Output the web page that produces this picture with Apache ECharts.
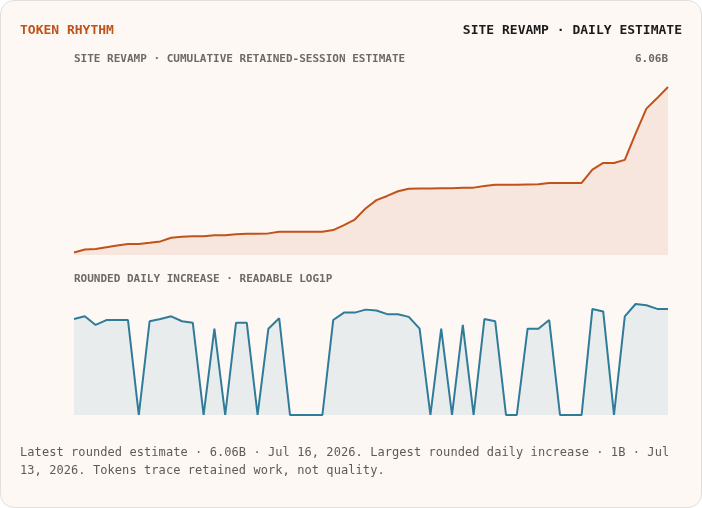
<html lang="en">
<head>
    <meta charset="UTF-8">
    <title>Token Rhythm</title>
    <script type="text/javascript" src="https://cdn.jsdelivr.net/npm/echarts@6/dist/echarts.min.js"></script>
</head>
<style>
    html, body {
        margin: 0;
        padding: 0;
        background: #ffffff;
    }
    #card {
        position: absolute;
        left: 0;
        top: 0;
        width: 702px;
        height: 508px;
        box-sizing: border-box;
        border: 1px solid #e4dfda;
        border-radius: 14px;
        background: #fdf8f4;
    }
    #container {
        position: absolute;
        left: 0;
        top: 0;
        width: 702px;
        height: 508px;
    }
    #note {
        position: absolute;
        left: 20px;
        top: 444px;
        width: 665px;
        font-family: 'DejaVu Sans Mono', monospace;
        font-size: 12px;
        letter-spacing: 0.07px;
        line-height: 17.5px;
        color: #5f5a56;
    }
</style>
<body>
<div id="card"></div>
<div id="container"></div>
<div id="note">Latest rounded estimate · 6.06B · Jul 16, 2026. Largest rounded daily increase · 1B · Jul 13, 2026. Tokens trace retained work, not quality.</div>
<script>
    // 56 days, May 22 -> Jul 16 2026
    var startDate = '2026-05-22';
    var dayCount = 56;

    // cumulative retained-session estimate, billions of tokens
    var cumulative = [0.09, 0.20, 0.22, 0.28, 0.34, 0.40, 0.40, 0.44, 0.49, 0.62,
        0.66, 0.68, 0.68, 0.71, 0.71, 0.75, 0.77, 0.77, 0.78, 0.84,
        0.84, 0.84, 0.84, 0.84, 0.90, 1.08, 1.28, 1.68, 1.98, 2.13,
        2.30, 2.39, 2.40, 2.40, 2.41, 2.41, 2.43, 2.43, 2.49, 2.53,
        2.53, 2.53, 2.54, 2.55, 2.60, 2.60, 2.60, 2.60, 3.08, 3.32,
        3.32, 3.43, 4.38, 5.28, 5.66, 6.06];

    // rounded daily increase, millions of tokens
    var dailyIncrease = [60, 100, 20, 50, 50, 50, 0, 40, 60, 100,
        40, 30, 0, 10, 0, 30, 30, 0, 10, 70,
        0, 0, 0, 0, 50, 200, 200, 350, 300, 150,
        150, 90, 10, 0, 10, 0, 20, 0, 60, 40,
        0, 0, 10, 10, 50, 0, 0, 0, 400, 250,
        0, 100, 1000, 800, 400, 400];

    var days = [];
    var d0 = new Date(startDate + 'T00:00:00Z');
    for (var i = 0; i < dayCount; i++) {
        var d = new Date(d0.getTime() + i * 86400000);
        days.push(d.toISOString().slice(0, 10));
    }

    // readable log1p of the raw token count
    var dailyLog = dailyIncrease.map(function (v) {
        return Math.log1p(v * 1e6);
    });

    var mono = 'DejaVu Sans Mono';

    var chart = echarts.init(document.getElementById('container'));

    var option = {
        animation: false,
        title: [
            {
                text: 'TOKEN RHYTHM', left: 20, top: 24, padding: 0,
                textStyle: {fontFamily: mono, fontSize: 13, fontWeight: 'bold', color: '#c0521a'}
            },
            {
                text: 'SITE REVAMP · DAILY ESTIMATE', right: 20, top: 24, padding: 0,
                textStyle: {fontFamily: mono, fontSize: 13, fontWeight: 'bold', color: '#1d1b1a'}
            },
            {
                text: 'SITE REVAMP · CUMULATIVE RETAINED-SESSION ESTIMATE', left: 74, top: 54, padding: 0,
                textStyle: {fontFamily: mono, fontSize: 11, fontWeight: 'bold', color: '#6e6965'}
            },
            {
                text: cumulative[cumulative.length - 1].toFixed(2) + 'B', right: 34, top: 54, padding: 0,
                textStyle: {fontFamily: mono, fontSize: 11, fontWeight: 'bold', color: '#6e6965'}
            },
            {
                text: 'ROUNDED DAILY INCREASE · READABLE LOG1P', left: 74, top: 274, padding: 0,
                textStyle: {fontFamily: mono, fontSize: 11, fontWeight: 'bold', color: '#6e6965'}
            }
        ],
        grid: [
            {left: 74, right: 34, top: 87, height: 168},
            {left: 74, right: 34, top: 304, height: 111}
        ],
        xAxis: [
            {type: 'category', gridIndex: 0, data: days, boundaryGap: false, show: false},
            {type: 'category', gridIndex: 1, data: days, boundaryGap: false, show: false}
        ],
        yAxis: [
            {type: 'value', gridIndex: 0, min: 0, max: 'dataMax', show: false},
            {type: 'value', gridIndex: 1, min: 0, max: 'dataMax', show: false}
        ],
        series: [
            {
                name: 'cumulative',
                type: 'line',
                xAxisIndex: 0,
                yAxisIndex: 0,
                data: cumulative,
                showSymbol: false,
                lineStyle: {color: '#c0521a', width: 2},
                areaStyle: {color: '#f7e6de', opacity: 1}
            },
            {
                name: 'daily',
                type: 'line',
                xAxisIndex: 1,
                yAxisIndex: 1,
                data: dailyLog,
                showSymbol: false,
                lineStyle: {color: '#2f7b99', width: 2},
                areaStyle: {color: '#e8ecec', opacity: 1}
            }
        ]
    };

    chart.setOption(option);
</script>
</body>
</html>
